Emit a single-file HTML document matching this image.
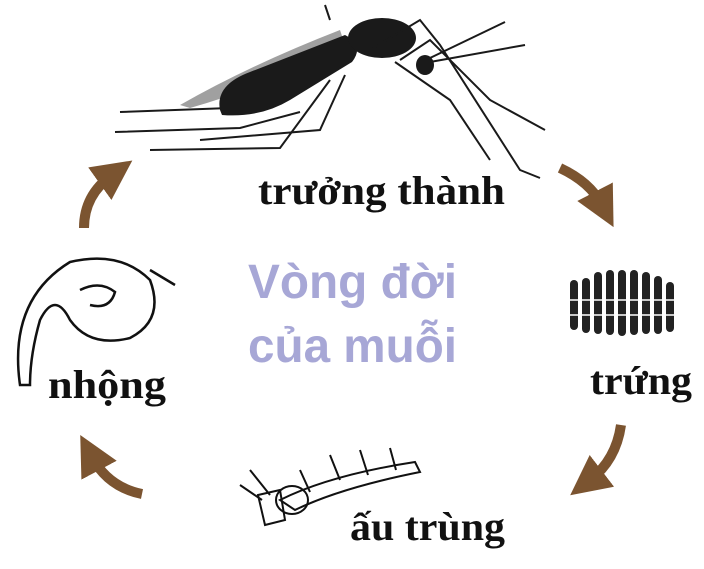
<!DOCTYPE html>
<html><head><meta charset="utf-8"><style>
html,body{margin:0;padding:0;background:#fff;width:704px;height:569px;overflow:hidden}
svg{display:block}
.lbl{font-family:"Liberation Serif",serif;font-weight:bold;fill:#111;font-size:40px}
.t{font-family:"Liberation Sans",sans-serif;font-weight:bold;fill:#a7a7d6;font-size:48px}
</style></head><body>
<svg width="704" height="569" viewBox="0 0 704 569" xmlns="http://www.w3.org/2000/svg">
<defs>
<marker id="ah" markerWidth="4" markerHeight="4" refX="1.5" refY="2" orient="auto" markerUnits="strokeWidth">
<path d="M0,0 L4,2 L0,4 Z" fill="#7b5430"/></marker>
</defs>
<g fill="none" stroke="#7b5430" stroke-width="10">
<path d="M84,228 Q84,195 112,175" marker-end="url(#ah)"/>
<path d="M560,168 Q590,182 602,205" marker-end="url(#ah)"/>
<path d="M621,425 Q616,460 590,480" marker-end="url(#ah)"/>
<path d="M142,494 Q108,487 92,457" marker-end="url(#ah)"/>
</g>
<g>
<path d="M180,105 Q250,65 340,30 L345,45 Q270,85 190,108 Z" fill="#888" opacity="0.8"/>
<path d="M220,110 Q215,85 250,72 L345,35 Q365,45 352,62 L290,100 Q260,118 222,115 Z" fill="#1a1a1a"/>
<ellipse cx="382" cy="38" rx="34" ry="20" fill="#1a1a1a"/>
<ellipse cx="425" cy="65" rx="9" ry="10" fill="#1a1a1a"/>
<g stroke="#1a1a1a" stroke-width="2" fill="none">
<path d="M120,112 L230,108"/><path d="M115,132 L240,128 L300,112"/>
<path d="M150,150 L280,148 L330,80"/><path d="M200,140 L320,130 L345,75"/>
<path d="M370,50 L420,20 L440,45 L520,170 L540,178"/>
<path d="M395,62 L450,100 L490,160"/>
<path d="M430,58 L505,22"/><path d="M430,62 L525,45"/>
<path d="M400,60 L430,40 L490,100 L545,130"/>
<path d="M330,20 L325,5"/>
</g>
</g>
<text class="lbl" x="258" y="204" textLength="247" lengthAdjust="spacingAndGlyphs">trưởng thành</text>
<g fill="#222">
<rect x="570" y="280" width="8" height="50" rx="4"/><rect x="582" y="278" width="8" height="55" rx="4"/>
<rect x="594" y="272" width="8" height="62" rx="4"/><rect x="606" y="270" width="8" height="65" rx="4"/>
<rect x="618" y="270" width="8" height="66" rx="4"/><rect x="630" y="270" width="8" height="65" rx="4"/>
<rect x="642" y="272" width="8" height="62" rx="4"/><rect x="654" y="276" width="8" height="58" rx="4"/>
<rect x="666" y="282" width="8" height="50" rx="4"/>
</g>
<g stroke="#fff" stroke-width="1.5"><path d="M568,300 H676 M568,315 H676"/></g>
<text class="lbl" x="590" y="394" textLength="102" lengthAdjust="spacingAndGlyphs">trứng</text>
<g fill="none" stroke="#111" stroke-width="2">
<path d="M280,500 Q330,475 415,462 L420,472 Q340,488 295,510 Z"/>
<ellipse cx="292" cy="500" rx="16" ry="14"/>
<path d="M258,495 L280,490 L285,520 L265,525 Z"/>
<path d="M250,470 L270,495 M240,485 L262,500 M300,470 L310,492 M330,455 L340,480 M360,450 L368,475 M390,448 L396,470"/>
</g>
<text class="lbl" x="350" y="540" textLength="155" lengthAdjust="spacingAndGlyphs">ấu trùng</text>
<g fill="none" stroke="#111" stroke-width="2.5">
<path d="M20,385 Q8,300 70,262 Q120,250 150,280 Q165,320 130,338 Q90,348 70,320 Q55,290 40,320 Q30,355 30,385 Z"/>
<path d="M150,270 L175,285"/>
<path d="M80,290 Q100,280 115,292 Q110,310 90,305"/>
</g>
<text class="lbl" x="48" y="398" textLength="118" lengthAdjust="spacingAndGlyphs">nhộng</text>
<text class="t" x="248" y="298" textLength="209" lengthAdjust="spacingAndGlyphs">Vòng đời</text>
<text class="t" x="248" y="362" textLength="209" lengthAdjust="spacingAndGlyphs">của muỗi</text>
</svg>
</body></html>
